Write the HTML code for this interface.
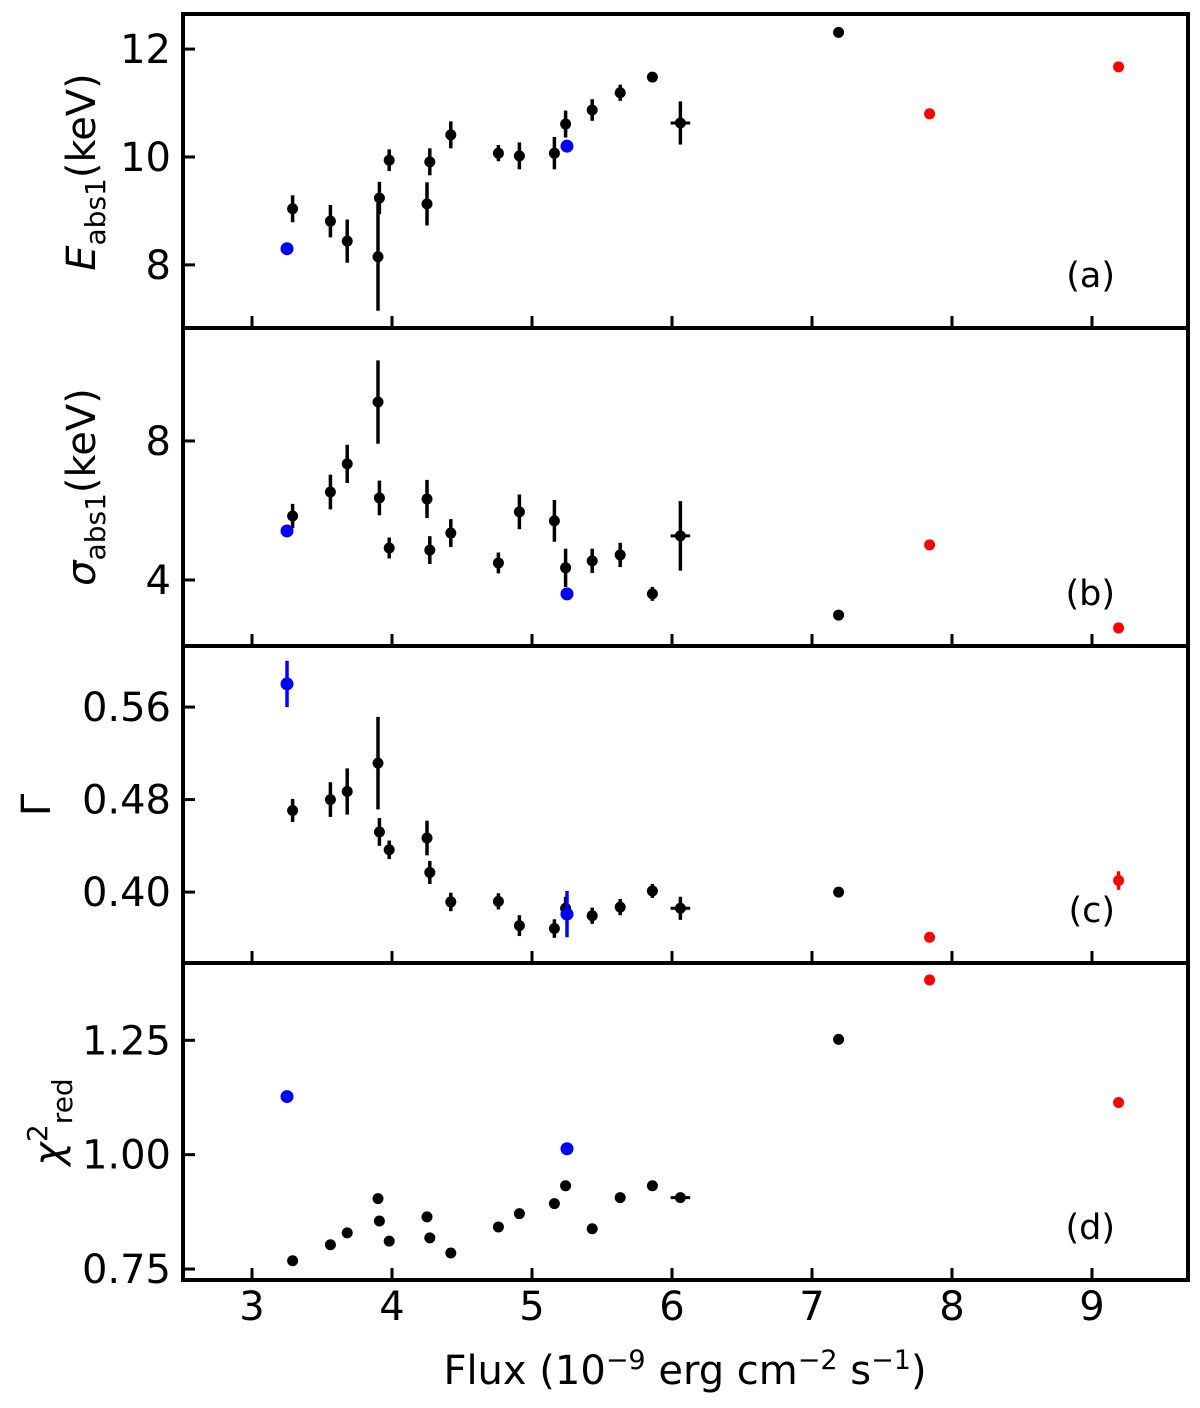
<!DOCTYPE html>
<html><head><meta charset="utf-8"><style>
html,body{margin:0;padding:0;background:#fff}
body{position:relative}
svg text{font-family:"DejaVu Sans","Liberation Sans",sans-serif;fill:#000}
#chart{position:absolute;left:0;top:0}
</style></head><body>
<svg id="chart" width="1200" height="1408" viewBox="0 0 1200 1408" xmlns="http://www.w3.org/2000/svg"></svg>
<script>
// data
const fluxBlack = [3.29,3.56,3.68,3.90,3.91,3.98,4.25,4.27,4.42,4.76,4.91,5.16,5.24,5.43,5.63,5.86,6.06,7.19];
const fluxErrBlack = [0.03,0.03,0.03,0.03,0.03,0.03,0.03,0.03,0.03,0.03,0.03,0.03,0.03,0.03,0.03,0.03,0.07,0];
const fluxBlue = [3.25,5.25];
const fluxRed = [7.84,9.19];

const eAbsBlack = [9.04,8.81,8.44,8.15,9.24,9.94,9.13,9.91,10.41,10.07,10.02,10.07,10.61,10.87,11.19,11.48,10.63,12.31];
const eAbsErr = [0.25,0.3,0.4,1.0,0.3,0.2,0.4,0.25,0.25,0.15,0.25,0.3,0.25,0.2,0.15,0.08,0.4,0];
const eAbsBlue = [8.30,10.20];
const eAbsRed = [10.80,11.67];

const sigBlack = [5.84,6.53,7.34,9.12,6.36,4.92,6.33,4.86,5.35,4.49,5.96,5.70,4.35,4.55,4.72,3.60,5.27,2.99];
const sigErr = [0.35,0.5,0.55,1.2,0.5,0.3,0.55,0.4,0.4,0.3,0.5,0.6,0.55,0.35,0.35,0.2,1.0,0];
const sigBlue = [5.41,3.60];
const sigRed = [5.01,2.62];

const gamBlack = [0.4706,0.480,0.487,0.5115,0.452,0.4366,0.4468,0.417,0.3915,0.392,0.371,0.3685,0.386,0.3796,0.387,0.401,0.386,0.40];
const gamErr = [0.01,0.015,0.02,0.04,0.012,0.008,0.015,0.01,0.008,0.007,0.009,0.008,0.01,0.007,0.007,0.006,0.01,0];
const gamBlue = [0.580,0.381];
const gamBlueErr = [0.02,0.02];
const gamRed = [0.361,0.410];
const gamRedErr = [0,0.008];

const chiBlack = [0.768,0.803,0.829,0.904,0.855,0.811,0.864,0.818,0.785,0.842,0.871,0.893,0.932,0.838,0.906,0.932,0.906,1.252];
const chiBlue = [1.127,1.013];
const chiRed = [1.382,1.114];

const xTicks = [3,4,5,6,7,8,9];
const aTicks = [8,10,12];
const bTicks = [4,8];
const cTicks = [0.40,0.48,0.56];
const cTickLabels = ["0.40","0.48","0.56"];
const dTicks = [0.75,1.00,1.25];
const dTickLabels = ["0.75","1.00","1.25"];

const NS="http://www.w3.org/2000/svg";
const svg=document.getElementById('chart');
const L=183,R=1188;
const xs=v=>L+(v-2.507)/(9.686-2.507)*(R-L);
function mk(tag,attrs,parent){const e=document.createElementNS(NS,tag);for(const k in attrs)e.setAttribute(k,attrs[k]);(parent||svg).appendChild(e);return e;}

const panels=[
 {id:'a',top:14,bot:328,min:6.83,max:12.65,ticks:aTicks,labels:aTicks.map(String),
  bk:eAbsBlack,bkE:eAbsErr,bl:eAbsBlue,blE:[0,0],rd:eAbsRed,rdE:[0,0],tag:'(a)'},
 {id:'b',top:328,bot:646,min:2.1,max:11.25,ticks:bTicks,labels:bTicks.map(String),
  bk:sigBlack,bkE:sigErr,bl:sigBlue,blE:[0,0],rd:sigRed,rdE:[0,0],tag:'(b)'},
 {id:'c',top:646,bot:963,min:0.3387,max:0.6128,ticks:cTicks,labels:cTickLabels,
  bk:gamBlack,bkE:gamErr,bl:gamBlue,blE:gamBlueErr,rd:gamRed,rdE:gamRedErr,tag:'(c)'},
 {id:'d',top:963,bot:1280,min:0.726,max:1.419,ticks:dTicks,labels:dTickLabels,
  bk:chiBlack,bkE:chiBlack.map(()=>0),bl:chiBlue,blE:[0,0],rd:chiRed,rdE:[0,0],tag:'(d)'}
];

panels.forEach(p=>{
 const g=mk('g',{});
 
 
 const ys=v=>p.bot-(v-p.min)/(p.max-p.min)*(p.bot-p.top);
 xTicks.forEach(t=>{const l=mk('line',{x1:xs(t),x2:xs(t),y1:p.bot,y2:p.bot-12,stroke:'#000','stroke-width':3},g);
  });
 p.ticks.forEach((t,i)=>{
  const l=mk('line',{x1:L,x2:L+12,y1:ys(t),y2:ys(t),stroke:'#000','stroke-width':3},g);
  
  const tx=mk('text',{x:L-12,y:ys(t)+14,'text-anchor':'end','font-size':40},g);tx.textContent=p.labels[i];
  
 });
 function series(xv,xe,yv,ye,color,r,name){
  yv.forEach((v,i)=>{
   const cx=xs(xv[i]),cy=ys(v);
   if(ye[i]>0){const e=mk('line',{x1:cx,x2:cx,y1:ys(v-ye[i]),y2:ys(v+ye[i]),stroke:color,'stroke-width':3.5},g);
    }
   if(xe&&xe[i]>0){const e=mk('line',{x1:xs(xv[i]-xe[i]),x2:xs(xv[i]+xe[i]),y1:cy,y2:cy,stroke:color,'stroke-width':3},g);
    }
   const c=mk('circle',{cx:cx,cy:cy,r:r,fill:color},g);
   
  });
 }
 series(fluxBlack,fluxErrBlack,p.bk,p.bkE,'#000',5.5,'black');
 series(fluxBlue,null,p.bl,p.blE,'#0000ff',6.5,'blue');
 series(fluxRed,null,p.rd,p.rdE,'#ff0000',5.5,'red');
 const t=mk('text',{x:1115,y:p.bot-41,'text-anchor':'end','font-size':35},g);t.textContent=p.tag;
 
 const fr=mk('rect',{x:L,y:p.top,width:R-L,height:p.bot-p.top,fill:'none',stroke:'#000','stroke-width':4},g);
 
});
xTicks.forEach(t=>{const tx=mk('text',{x:xs(t),y:1320,'text-anchor':'middle','font-size':40});tx.textContent=t;
 });
</script>
<svg style="position:absolute;left:0;top:0" width="1200" height="1408" xmlns="http://www.w3.org/2000/svg">
<text x="685" y="1384" text-anchor="middle" font-size="40">Flux (10<tspan dy="-15" font-size="27">−9</tspan><tspan dy="15"> erg cm</tspan><tspan dy="-15" font-size="27">−2</tspan><tspan dy="15"> s</tspan><tspan dy="-15" font-size="27">−1</tspan><tspan dy="15">)</tspan></text>
<text transform="translate(95,172) rotate(-90)" text-anchor="middle" font-size="40"><tspan font-style="italic">E</tspan><tspan dy="10" font-size="28">abs1</tspan><tspan dy="-10">(keV)</tspan></text>
<text transform="translate(95,487) rotate(-90)" text-anchor="middle" font-size="40"><tspan font-style="italic">σ</tspan><tspan dy="10" font-size="28">abs1</tspan><tspan dy="-10">(keV)</tspan></text>
<text transform="translate(50,805) rotate(-90)" text-anchor="middle" font-size="40">Γ</text>
<text transform="translate(62,1122) rotate(-90)" text-anchor="middle" font-size="40"><tspan font-style="italic">χ</tspan><tspan dy="-15" font-size="28">2</tspan><tspan dy="25" font-size="28">red</tspan></text>
</svg>
</body></html>
